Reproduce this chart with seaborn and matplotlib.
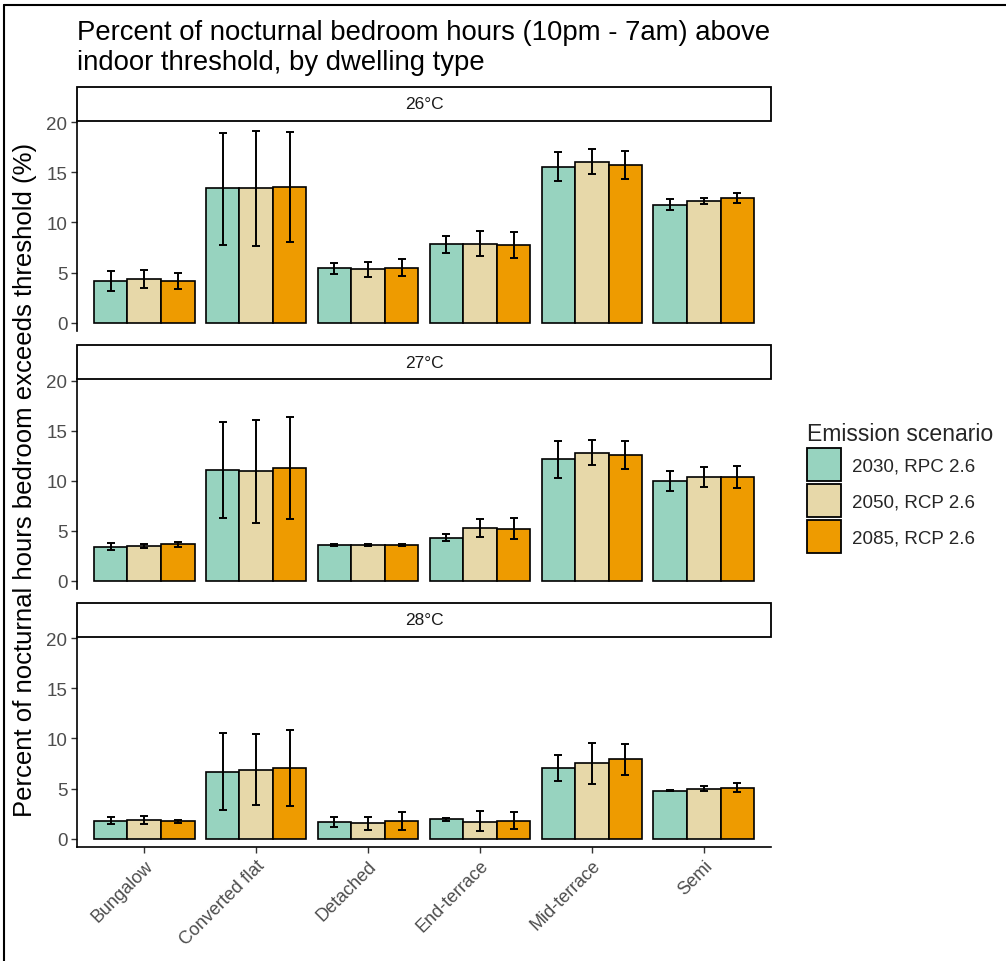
import pandas as pd
import matplotlib
matplotlib.use("Agg")
import matplotlib.pyplot as plt
import seaborn as sns
from matplotlib.patches import Rectangle
from matplotlib.lines import Line2D

## Data
dwellings = ["Bungalow", "Converted flat", "Detached", "End-terrace", "Mid-terrace", "Semi"]
scenarios = ["2030, RPC 2.6", "2050, RCP 2.6", "2085, RCP 2.6"]
thresholds = ["26°C", "27°C", "28°C"]
colours = ["#97D3BF", "#E7D8A9", "#EE9B00"]

# one list per scenario (2030, 2050, 2085), values per dwelling
mean_26 = [[4.17, 13.4, 5.43, 7.83, 15.57, 11.77],
           [4.4, 13.4, 5.33, 7.9, 16.07, 12.17],
           [4.2, 13.53, 5.5, 7.77, 15.73, 12.47]]
lo_26 = [[3.17, 7.77, 4.9, 6.93, 14.13, 11.2],
         [3.5, 7.67, 4.6, 6.63, 14.8, 11.87],
         [3.4, 8.03, 4.67, 6.47, 14.3, 11.97]]
hi_26 = [[5.17, 18.97, 5.97, 8.67, 17.07, 12.33],
         [5.27, 19.13, 6.1, 9.17, 17.3, 12.47],
         [4.97, 19.07, 6.37, 9.07, 17.13, 12.97]]

mean_27 = [[3.43, 11.1, 3.63, 4.3, 12.13, 9.93],
           [3.47, 10.93, 3.63, 5.3, 12.8, 10.4],
           [3.67, 11.3, 3.63, 5.2, 12.57, 10.33]]
lo_27 = [[3.1, 6.27, 3.53, 3.97, 10.3, 9.0],
         [3.27, 5.8, 3.53, 4.4, 11.53, 9.4],
         [3.4, 6.17, 3.53, 4.2, 11.2, 9.33]]
hi_27 = [[3.77, 15.83, 3.73, 4.73, 13.97, 10.93],
         [3.73, 16.07, 3.73, 6.23, 14.07, 11.4],
         [3.87, 16.4, 3.73, 6.27, 13.97, 11.43]]

mean_28 = [[1.77, 6.7, 1.67, 1.93, 7.1, 4.8],
           [1.87, 6.9, 1.57, 1.67, 7.53, 5.0],
           [1.77, 7.1, 1.73, 1.8, 7.93, 5.1]]
lo_28 = [[1.43, 2.9, 1.13, 1.73, 5.77, 4.73],
         [1.5, 3.37, 0.9, 0.77, 5.43, 4.73],
         [1.6, 3.3, 0.83, 0.93, 6.37, 4.67]]
hi_28 = [[2.13, 10.53, 2.2, 2.1, 8.33, 4.87],
         [2.27, 10.47, 2.2, 2.77, 9.6, 5.27],
         [1.9, 10.8, 2.63, 2.67, 9.47, 5.53]]

# build long table
rows = []
for t, m, lo, hi in zip(thresholds, [mean_26, mean_27, mean_28],
                        [lo_26, lo_27, lo_28], [hi_26, hi_27, hi_28]):
    for s, ms, ls, hs in zip(scenarios, m, lo, hi):
        for d, v, a, b in zip(dwellings, ms, ls, hs):
            rows.append({"threshold": t, "scenario": s, "dwelling": d,
                         "pct": v, "lo": a, "hi": b})
d_heat = pd.DataFrame(rows)

sns.set_theme(style="ticks")
plt.rcParams["font.family"] = ["Liberation Sans", "DejaVu Sans"]

W, H = 1006, 962
fig = plt.figure(figsize=(W / 100, H / 100), dpi=100)

ax_left, ax_right = 77, 771
tops = [121.6, 379.9, 637.6]
ax_h = 210.5
strip_h = 33.5

for i, t in enumerate(thresholds):
    ax = fig.add_axes([ax_left / W, 1 - (tops[i] + ax_h) / H,
                       (ax_right - ax_left) / W, ax_h / H])
    sub = d_heat[d_heat["threshold"] == t]
    sns.barplot(data=sub, x="dwelling", y="pct", hue="scenario",
                order=dwellings, hue_order=scenarios, palette=colours,
                saturation=1, width=0.9, edgecolor="black", linewidth=1.2,
                errorbar=None, legend=False, ax=ax)
    # error bars on the drawn bars
    for cont, s in zip(ax.containers, scenarios):
        ss = sub[sub["scenario"] == s].set_index("dwelling").loc[dwellings]
        for bar, (_, r) in zip(cont, ss.iterrows()):
            xc = bar.get_x() + bar.get_width() / 2
            ax.errorbar(xc, r["pct"], yerr=[[r["pct"] - r["lo"]], [r["hi"] - r["pct"]]],
                        fmt="none", ecolor="black", elinewidth=1.4,
                        capsize=3, capthick=1.4, zorder=5)
    ax.set_xlim(-0.6, 5.6)
    ax.set_ylim(-0.84, 20.17)
    ax.set_yticks([0, 5, 10, 15, 20])
    ax.set_xlabel("")
    ax.set_ylabel("")
    for side in ["top", "right"]:
        ax.spines[side].set_visible(False)
    ax.spines["left"].set_linewidth(1.2)
    ax.spines["left"].set_color("black")
    ax.tick_params(axis="y", labelsize=13.5, labelcolor="#4D4D4D", color="#333333",
                   length=4, width=1, pad=3)
    if i < 2:
        ax.spines["bottom"].set_visible(False)
        ax.tick_params(axis="x", bottom=False, labelbottom=False)
    else:
        ax.spines["bottom"].set_linewidth(1.2)
        ax.spines["bottom"].set_color("black")
        ax.tick_params(axis="x", labelsize=13, labelcolor="#4D4D4D", color="#333333",
                       length=4, width=1, pad=3)
        plt.setp(ax.get_xticklabels(), rotation=45, ha="right", va="top",
                 rotation_mode="anchor")
    # facet strip
    sh = strip_h / ax_h
    ax.add_patch(Rectangle((0, 1), 1, sh, transform=ax.transAxes, clip_on=False,
                           facecolor="white", edgecolor="black", linewidth=1.3))
    ax.text(0.5, 1 + sh / 2, t, transform=ax.transAxes, ha="center", va="center",
            fontsize=12.5, color="#1A1A1A")

fig.text(77 / W, 1 - 20 / H,
         "Percent of nocturnal bedroom hours (10pm - 7am) above\nindoor threshold, by dwelling type",
         ha="left", va="top", fontsize=19.8, linespacing=1.2, color="black")
fig.text(25 / W, 1 - 480 / H, "Percent of nocturnal hours bedroom exceeds threshold (%)",
         rotation=90, ha="center", va="center", fontsize=18.5, color="black")

handles = [Rectangle((0, 0), 1, 1, facecolor=c, edgecolor="black", linewidth=1.3)
           for c in colours]
fig.legend(handles, scenarios, title="Emission scenario", loc="upper left",
           bbox_to_anchor=(790 / W, 1 - 406 / H), frameon=False, fontsize=13.5,
           title_fontsize=16.6, handlelength=1.8, handleheight=2.35,
           labelspacing=0.15, handletextpad=0.6, alignment="left")

# screenshot frame (top and left edges)
fig.add_artist(Line2D([4 / W, 1], [1 - 6 / H, 1 - 6 / H], color="black", linewidth=1.5,
                      transform=fig.transFigure))
fig.add_artist(Line2D([4 / W, 4 / W], [0, 1 - 6 / H], color="black", linewidth=1.5,
                      transform=fig.transFigure))

fig.savefig("out.png", dpi=100, facecolor="white")
